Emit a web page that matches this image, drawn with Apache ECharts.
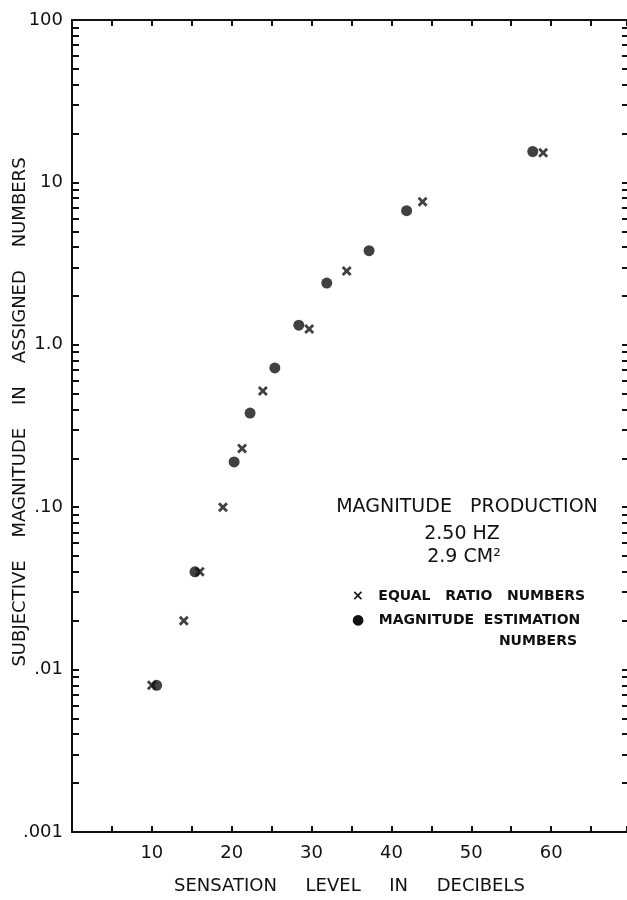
<!DOCTYPE html>
<html>
<head>
<meta charset="utf-8">
<script src="https://cdn.jsdelivr.net/npm/echarts@6/dist/echarts.min.js"></script>
<style>
  html, body { margin: 0; padding: 0; background: #fff; }
  #chart { width: 627px; height: 900px; }
</style>
</head>
<body>
<div id="chart"></div>
<script>
// sensation level (dB), subjective magnitude
const equalRatio = [
  [10.0, 0.008], [14.0, 0.02], [16.0, 0.04], [18.9, 0.10], [21.3, 0.23],
  [23.9, 0.52], [29.7, 1.25], [34.4, 2.85], [43.9, 7.6], [59.0, 15.2]
];
const magnitudeEstimation = [
  [10.6, 0.008], [15.4, 0.04], [20.3, 0.19], [22.3, 0.38], [25.4, 0.72],
  [28.4, 1.32], [31.9, 2.4], [37.2, 3.8], [41.9, 6.7], [57.7, 15.5]
];
const xLabelValues = [10, 20, 30, 40, 50, 60];
const yLabelValues = [0.001, 0.01, 0.1, 1, 10, 100];
const yLabelText = [".001", ".01", ".10", "1.0", "10", "100"];
const decades = [0.001, 0.01, 0.1, 1, 10];
const minorSteps = [1, 2, 3, 4, 5, 6, 7, 8, 9];

// log ticks at 1..9 of every decade
const yTickValues = [];
decades.forEach(d => minorSteps.forEach(m => yTickValues.push(+(d * m).toPrecision(3))));
yTickValues.push(100);

const INK = "#111";
const FONT = "DejaVu Sans";
const crossPath = "path://M0,2 L2,0 L5,3 L8,0 L10,2 L7,5 L10,8 L8,10 L5,7 L2,10 L0,8 L3,5 Z";

const chart = echarts.init(document.getElementById("chart"), null, { renderer: "canvas" });

const xBase = {
  type: "value", min: 0, max: 69.5, interval: 5,
  splitLine: { show: false },
  axisLine: { lineStyle: { color: INK, width: 2 } },
  axisTick: { inside: true, length: 6, lineStyle: { color: INK, width: 2 } }
};
const yBase = {
  type: "log", logBase: 10, min: 0.001, max: 100,
  splitLine: { show: false },
  minorTick: { show: false }
};

chart.setOption({
  backgroundColor: "#fff",
  animation: false,
  grid: { left: 72, top: 20, width: 556, height: 820 },
  xAxis: [
    Object.assign({}, xBase, {
      position: "bottom",
      name: "SENSATION     LEVEL     IN     DECIBELS",
      nameLocation: "middle", nameGap: 45,
      nameTextStyle: { color: INK, fontFamily: FONT, fontSize: 18 },
      axisLabel: {
        color: INK, fontFamily: FONT, fontSize: 18, margin: 12,
        customValues: xLabelValues
      }
    }),
    Object.assign({}, xBase, {
      position: "top",
      axisLabel: { show: false }
    })
  ],
  yAxis: [
    Object.assign({}, yBase, {
      position: "left",
      axisLine: { onZero: false, lineStyle: { color: INK, width: 2 } },
      axisTick: { inside: true, length: 7, lineStyle: { color: INK, width: 2 }, customValues: yTickValues },
      axisLabel: {
        color: INK, fontFamily: FONT, fontSize: 18, margin: 9,
        customValues: yLabelValues,
        formatter: v => {
          const i = yLabelValues.findIndex(t => Math.abs(Math.log10(t) - Math.log10(v)) < 1e-6);
          return i >= 0 ? yLabelText[i] : "";
        }
      }
    }),
    Object.assign({}, yBase, {
      position: "right",
      axisLine: { show: false, onZero: false },
      axisTick: { inside: true, length: 5, lineStyle: { color: INK, width: 2 }, customValues: yTickValues },
      axisLabel: { show: false }
    })
  ],
  series: [
    {
      name: "EQUAL RATIO NUMBERS", type: "scatter", data: equalRatio,
      symbol: crossPath, symbolSize: [10, 10],
      itemStyle: { color: INK }
    },
    {
      name: "MAGNITUDE ESTIMATION NUMBERS", type: "scatter", data: magnitudeEstimation,
      symbol: "circle", symbolSize: 11,
      itemStyle: { color: INK }
    }
  ],
  graphic: [
    {
      type: "text", x: 20, y: 412, rotation: Math.PI / 2,
      style: {
        text: "SUBJECTIVE    MAGNITUDE    IN    ASSIGNED    NUMBERS",
        fill: INK, font: "18px " + FONT, align: "center", verticalAlign: "middle"
      }
    },
    {
      type: "text", x: 467, y: 507,
      style: { text: "MAGNITUDE   PRODUCTION", fill: INK, font: "19px " + FONT, align: "center", verticalAlign: "middle" }
    },
    {
      type: "text", x: 462, y: 534,
      style: { text: "2.50 HZ", fill: INK, font: "19px " + FONT, align: "center", verticalAlign: "middle" }
    },
    {
      type: "text", x: 464, y: 557,
      style: { text: "2.9 CM²", fill: INK, font: "19px " + FONT, align: "center", verticalAlign: "middle" }
    },
    {
      type: "text", x: 352, y: 596,
      style: { text: "×   EQUAL   RATIO   NUMBERS", fill: INK, font: "bold 14px " + FONT, align: "left", verticalAlign: "middle" }
    },
    {
      type: "text", x: 352, y: 620,
      style: { text: "●   MAGNITUDE  ESTIMATION", fill: INK, font: "bold 14px " + FONT, align: "left", verticalAlign: "middle" }
    },
    {
      type: "text", x: 577, y: 641,
      style: { text: "NUMBERS", fill: INK, font: "bold 14px " + FONT, align: "right", verticalAlign: "middle" }
    }
  ]
});
</script>
</body>
</html>
